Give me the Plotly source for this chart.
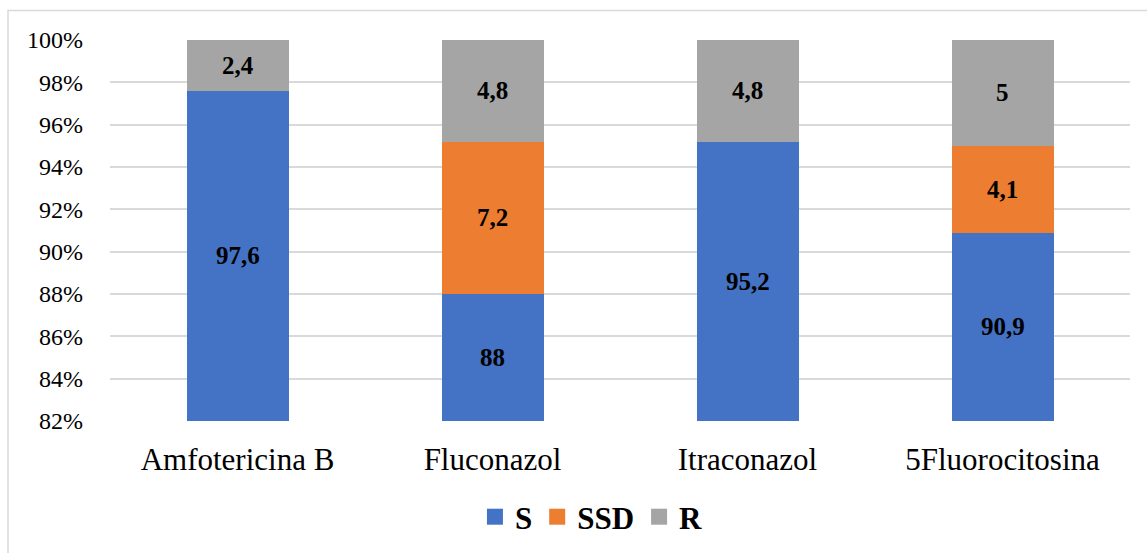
import plotly.graph_objects as go

# Susceptibility profile per antifungal (percent of isolates)
categories = ["Amfotericina B", "Fluconazol", "Itraconazol", "5Fluorocitosina"]
s_values = [97.6, 88, 95.2, 90.9]
ssd_values = [0, 7.2, 0, 4.1]
r_values = [2.4, 4.8, 4.8, 5]

series_names = ["S", "SSD", "R"]
series_colors = ["#4472C4", "#ED7D31", "#A5A5A5"]

y_min, y_max = 82, 100
y_ticks = [82, 84, 86, 88, 90, 92, 94, 96, 98, 100]
y_tick_labels = ["82%", "84%", "86%", "88%", "90%", "92%", "94%", "96%", "98%", "100%"]

FONT = "Liberation Serif"


def fmt(v):
    # decimal comma, no trailing zeros
    txt = f"{v:g}"
    return txt.replace(".", ",")


fig = go.Figure()

series = [s_values, ssd_values, r_values]
for name, vals, color in zip(series_names, series, series_colors):
    fig.add_trace(go.Bar(
        x=categories, y=vals, name=name,
        marker=dict(color=color, line=dict(width=0)),
        showlegend=False, hoverinfo="x+y+name",
    ))

# Legend entries with square swatches
for name, color in zip(series_names, series_colors):
    fig.add_trace(go.Scatter(
        x=[None], y=[None], mode="markers", name=f"<b>{name}</b>",
        marker=dict(symbol="square", size=16, color=color),
    ))

# Value labels centred on the visible part of each segment
annotations = []
for i, cat in enumerate(categories):
    bottom = 0.0
    for vals in series:
        v = vals[i]
        top = bottom + v
        if v > 0:
            lo = max(bottom, y_min)
            hi = min(top, y_max)
            annotations.append(dict(
                x=cat, y=(lo + hi) / 2, text=f"<b>{fmt(v)}</b>",
                showarrow=False, xref="x", yref="y",
                font=dict(family=FONT, size=25, color="#000000"),
            ))
        bottom = top

fig.update_layout(
    width=1147, height=553,
    margin=dict(l=110, r=17, t=40, b=132, autoexpand=False),
    paper_bgcolor="white", plot_bgcolor="white",
    barmode="stack", bargap=0.6,
    font=dict(family=FONT, color="#000000"),
    annotations=annotations,
    legend=dict(
        orientation="h", x=0.472, xanchor="center",
        yref="container", y=0.065, yanchor="middle",
        font=dict(family=FONT, size=31, color="#000000"),
        itemsizing="trace", traceorder="normal", itemwidth=30,
        bgcolor="rgba(0,0,0,0)",
    ),
    shapes=[dict(
        type="rect", xref="paper", yref="paper",
        x0=-0.1, x1=1.2, y0=-1, y1=1.0773,
        line=dict(color="#D9D9D9", width=1.5), layer="below",
    )],
)

fig.update_yaxes(
    range=[y_min, y_max], tickmode="array",
    tickvals=y_ticks, ticktext=y_tick_labels,
    showgrid=True, gridcolor="#D9D9D9", gridwidth=1.5,
    zeroline=False, showline=False, ticks="",
    tickfont=dict(family=FONT, size=24, color="#000000"),
    ticklabelstandoff=26,
)
fig.update_xaxes(
    showgrid=False, showline=False, ticks="",
    tickfont=dict(family=FONT, size=31, color="#000000"),
    ticklabelstandoff=17,
)

fig.write_html("out.html")
